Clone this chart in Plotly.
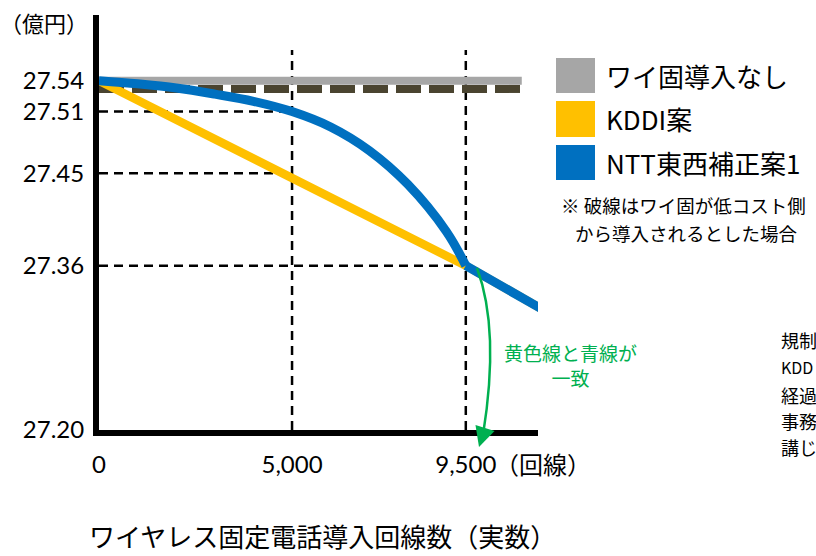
import plotly.graph_objects as go

# ---------------- data ----------------
x_ticks = [0, 5000, 9500]
x_ticklabels = ["0", "5,000", "9,500"]
y_ticks = [27.20, 27.36, 27.45, 27.51, 27.54]
y_ticklabels = ["27.20", "27.36", "27.45", "27.51", "27.54"]

# ワイ固導入なし (flat)
none_x = [0, 10950]
none_y = [27.54, 27.54]

# 破線 (低コスト側から導入)
low_x = [0, 10930]
low_y = [27.532, 27.532]

# KDDI案
kddi_x = [0, 9500, 11600]
kddi_y = [27.54, 27.36, 27.315]

# NTT東西補正案1 (curved part up to the 9,500 junction, then straight)
ntt_x = [0, 1000, 2000, 3000, 4000, 5000, 6000, 7000, 8000, 9000, 9500, 11600]
ntt_y = [27.54, 27.537, 27.533, 27.527, 27.520, 27.510, 27.495, 27.472, 27.439, 27.393, 27.36, 27.315]
junction = 9500

# guide lines
h_guides = [(27.51, 5000), (27.45, 5000), (27.36, 9500)]
v_guides = [5000, 9500]
v_top = 27.57

legend_names = ["ワイ固導入なし", "KDDI案", "NTT東西補正案1"]
colors = {"none": "#a6a6a6", "kddi": "#ffc000", "ntt": "#0070c0", "low": "#4a4430"}

FONT = "Noto Sans CJK JP, sans-serif"
NUMFONT = "Lato, Noto Sans CJK JP, sans-serif"

# plot area in pixels
L, R, T, B = 99, 538, 15, 430
W, H = 816, 556


def px(xp):
    return (xp - L) / (R - L)


def py(yp):
    return (B - yp) / (B - T)


fig = go.Figure()

for yv, xe in h_guides:
    fig.add_trace(go.Scatter(x=[0, xe], y=[yv, yv], mode="lines",
                             line=dict(color="black", width=2.5, dash="9px,6px"),
                             hoverinfo="skip", showlegend=False))
for xv in v_guides:
    fig.add_trace(go.Scatter(x=[xv, xv], y=[27.20, v_top], mode="lines",
                             line=dict(color="black", width=2.5, dash="9px,6px"),
                             hoverinfo="skip", showlegend=False))

fig.add_trace(go.Scatter(x=none_x, y=none_y, mode="lines",
                         line=dict(color=colors["none"], width=8), showlegend=False))
fig.add_trace(go.Scatter(x=low_x, y=low_y, mode="lines",
                         line=dict(color=colors["low"], width=8, dash="25px,8px"), showlegend=False))
fig.add_trace(go.Scatter(x=kddi_x, y=kddi_y, mode="lines",
                         line=dict(color=colors["kddi"], width=8.5), showlegend=False))

k = ntt_x.index(junction)
fig.add_trace(go.Scatter(x=ntt_x[:k + 1], y=ntt_y[:k + 1], mode="lines",
                         line=dict(color=colors["ntt"], width=9, shape="spline", smoothing=1),
                         showlegend=False))
fig.add_trace(go.Scatter(x=ntt_x[k:], y=ntt_y[k:], mode="lines",
                         line=dict(color=colors["ntt"], width=9), showlegend=False))

shapes = []
annotations = []

# legend squares
sq = [(58, 93, colors["none"]), (101, 137, colors["kddi"]), (145, 180, colors["ntt"])]
for (y0, y1, c), name in zip(sq, legend_names):
    shapes.append(dict(type="rect", xref="paper", yref="paper",
                       x0=px(556), x1=px(595), y0=py(y1), y1=py(y0),
                       fillcolor=c, line=dict(width=0)))
    annotations.append(dict(xref="paper", yref="paper", x=px(604), y=py((y0 + y1) / 2),
                            text=name, showarrow=False, xanchor="left", yanchor="middle",
                            font=dict(family=FONT, size=26, color="black")))

annotations.append(dict(xref="paper", yref="paper", x=px(683), y=py(204.5),
                        text="※ 破線はワイ固が低コスト側", showarrow=False,
                        xanchor="center", yanchor="middle",
                        font=dict(family=FONT, size=18.5, color="black")))
annotations.append(dict(xref="paper", yref="paper", x=px(686), y=py(232.5),
                        text="から導入されるとした場合", showarrow=False,
                        xanchor="center", yanchor="middle",
                        font=dict(family=FONT, size=18.5, color="black")))

# green note
annotations.append(dict(xref="paper", yref="paper", x=px(570), y=py(365),
                        text="黄色線と青線が<br>一致", showarrow=False,
                        xanchor="center", yanchor="middle", align="center",
                        font=dict(family=FONT, size=19, color="#00b050")))

# curved green arrow
p0 = (px(477), py(268))
c1 = (px(500), py(330))
p1 = (px(483), py(435))
shapes.append(dict(type="path", xref="paper", yref="paper",
                   path=f"M {p0[0]},{p0[1]} Q {c1[0]},{c1[1]} {p1[0]},{p1[1]}",
                   line=dict(color="#00b050", width=2.5)))
annotations.append(dict(xref="paper", yref="paper", x=px(479), y=py(447),
                        ax=6, ay=-19, axref="pixel", ayref="pixel",
                        text="", showarrow=True, arrowhead=2, arrowsize=1.6,
                        arrowwidth=2.5, arrowcolor="#00b050"))

# units and axis title
annotations.append(dict(xref="paper", yref="paper", x=px(44), y=py(22),
                        text="（億円）", showarrow=False, xanchor="center", yanchor="middle",
                        font=dict(family=FONT, size=22, color="black")))
annotations.append(dict(xref="paper", yref="paper", x=px(543), y=py(463),
                        text="（回線）", showarrow=False, xanchor="center", yanchor="middle",
                        font=dict(family=FONT, size=24, color="black")))
annotations.append(dict(xref="paper", yref="paper", x=px(322), y=py(535),
                        text="ワイヤレス固定電話導入回線数（実数）", showarrow=False,
                        xanchor="center", yanchor="middle",
                        font=dict(family=FONT, size=26, color="black")))

# text at right edge (only the visible part in the source)
right_lines = [("規制", 340, 18), ("KDD", 367, 16), ("経過", 395, 18),
               ("事務", 421, 18), ("講じ", 447, 18)]
for t, yy, s in right_lines:
    annotations.append(dict(xref="paper", yref="paper", x=px(779), y=py(yy),
                            text=t, showarrow=False, xanchor="left", yanchor="middle",
                            font=dict(family=FONT, size=s, color="black")))

fig.update_layout(
    width=W, height=H,
    margin=dict(l=L, r=W - R, t=T, b=H - B, pad=0),
    plot_bgcolor="white", paper_bgcolor="white",
    font=dict(family=FONT, color="black"),
    shapes=shapes, annotations=annotations,
    showlegend=False,
    xaxis=dict(range=[0, 11370], tickvals=x_ticks, ticktext=x_ticklabels,
               showgrid=False, zeroline=False, showline=True, linewidth=6, linecolor="black",
               ticks="", ticklabelstandoff=8, tickfont=dict(size=24, family=NUMFONT)),
    yaxis=dict(range=[27.20, 27.604], tickvals=y_ticks, ticktext=y_ticklabels,
               showgrid=False, zeroline=False, showline=True, linewidth=6, linecolor="black",
               ticks="", ticklabelstandoff=4, tickfont=dict(size=24, family=NUMFONT)),
)

fig.write_html("out.html")
